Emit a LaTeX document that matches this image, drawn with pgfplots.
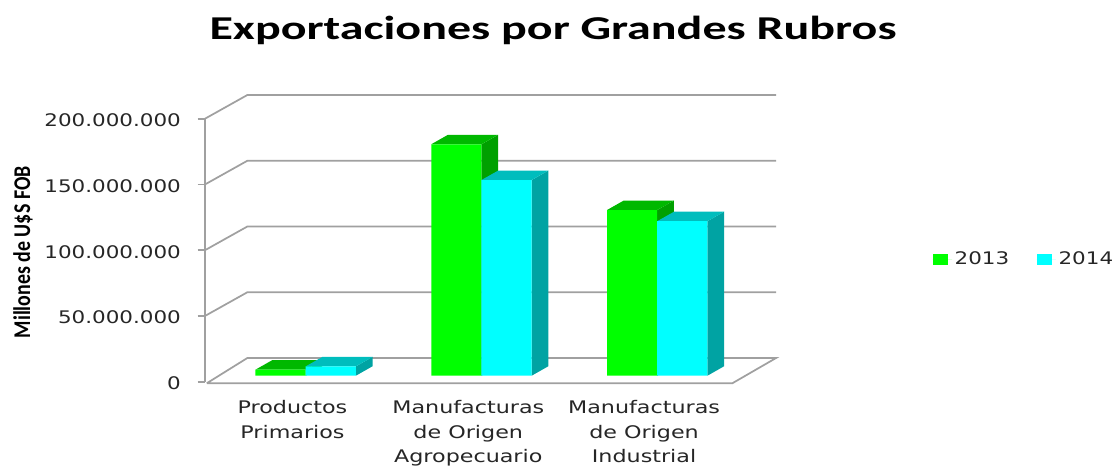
\documentclass[border=0pt]{standalone}
\usepackage{pgfplots}
\pgfplotsset{compat=1.18}
\usepackage{fontspec}
\setmainfont[FakeStretch=1.237]{DejaVu Sans}
\newfontfamily\xfont[FakeStretch=1.283]{DejaVu Sans}
\newfontfamily\titlefont[FakeStretch=1.44]{Carlito}
\newfontfamily\labelfont[FakeStretch=0.83]{Carlito}
\definecolor{gridg}{HTML}{A0A0A0}
\definecolor{gfront}{HTML}{00FF00}
\definecolor{gtop}{HTML}{00B800}
\definecolor{gside}{HTML}{00A000}
\definecolor{cfront}{HTML}{00FFFF}
\definecolor{ctop}{HTML}{00BDBD}
\definecolor{cside}{HTML}{00A3A3}
\definecolor{txt}{HTML}{262626}
\begin{document}
\begin{tikzpicture}
\path[use as bounding box] (0,0) rectangle (836.25pt,348.75pt);
% walls, ticks and labels
\begin{axis}[
  at={(153.75pt,62.475pt)}, anchor=south west,
  scale only axis, width=395.5pt, height=197.25pt,
  xmin=-0.5, xmax=2.5, ymin=0, ymax=200000000,
  clip=false,
  axis y line*=left, axis x line*=bottom,
  x axis line style={draw=none},
  y axis line style={draw=gridg, line width=1.5pt},
  xtick={0,1,2},
  xticklabels={{Productos\\Primarios},{Manufacturas\\de Origen\\Agropecuario},{Manufacturas\\de Origen\\Industrial}},
  xtick style={draw=none},
  xticklabel style={align=center, font=\xfont\fontsize{13}{18.4}\selectfont, text=txt, yshift=-5pt, xshift=-0.3pt},
  ytick={0,50000000,100000000,150000000,200000000},
  ytick style={draw=gridg, line width=1.2pt},
  tick align=outside, major tick length=5.6pt,
  scaled y ticks=false,
  yticklabel style={/pgf/number format/fixed, /pgf/number format/1000 sep={.}, /pgf/number format/assume math mode=true, font=\fontsize{13}{15}\selectfont, text=txt, xshift=-9pt, yshift=-1.2pt},
  ylabel={Millones de U\$S FOB},
  every axis y label/.style={at={(rel axis cs:-0.345,0.492)}, rotate=90, anchor=center, font=\labelfont\bfseries\fontsize{18}{19}\selectfont, text=black},
  title={Exportaciones por Grandes Rubros},
  every axis title/.style={at={(rel axis cs:0.66,1.335)}, anchor=center, font=\titlefont\bfseries\fontsize{25}{28}\selectfont, text=black},
]
\addplot[gridg, line width=1.3pt] coordinates {(-0.5,50000000) (-0.2593,68000000) (2.7486,68000000)};
\addplot[gridg, line width=1.3pt] coordinates {(-0.5,100000000) (-0.2593,118000000) (2.7486,118000000)};
\addplot[gridg, line width=1.3pt] coordinates {(-0.5,150000000) (-0.2593,168000000) (2.7486,168000000)};
\addplot[gridg, line width=1.3pt] coordinates {(-0.5,200000000) (-0.2593,218000000) (2.7486,218000000)};
\addplot[gridg, line width=1.3pt] coordinates {(-0.49,-1200000) (2.5,-1200000) (2.7486,18000000) (-0.2593,18000000) (-0.49,-1200000)};
\end{axis}
% bars
\begin{axis}[
  at={(163.35pt,66.975pt)}, anchor=south west,
  scale only axis, width=395.5pt, height=197.25pt,
  xmin=-0.5, xmax=2.5, ymin=0, ymax=200000000,
  clip=false, hide axis,
  legend columns=2,
  legend style={at={(rel axis cs:1.3552,0.4422)}, anchor=west, draw=none, fill=none, font=\fontsize{13}{15}\selectfont, text=txt, inner sep=0pt, /tikz/every even column/.append style={column sep=18.5pt}},
  legend image code/.code={\fill[#1] (0pt,-4.1pt) rectangle (11.25pt,4.1pt); \path (0pt,0pt) -- (14.5pt,0pt);},
]
% 2013 depth faces
\addplot[fill=gside, draw=none, forget plot] coordinates {(0,0) (0,4600000) (0.095,11800000) (0.095,7200000)} -- cycle;
\addplot[fill=gtop, draw=none, forget plot] coordinates {(-0.2856,4600000) (0,4600000) (0.095,11800000) (-0.1906,11800000)} -- cycle;
\addplot[fill=gside, draw=none, forget plot] coordinates {(1,0) (1,176000000) (1.095,183200000) (1.095,7200000)} -- cycle;
\addplot[fill=gtop, draw=none, forget plot] coordinates {(0.7144,176000000) (1,176000000) (1.095,183200000) (0.8094,183200000)} -- cycle;
\addplot[fill=gside, draw=none, forget plot] coordinates {(2,0) (2,126000000) (2.095,133200000) (2.095,7200000)} -- cycle;
\addplot[fill=gtop, draw=none, forget plot] coordinates {(1.7144,126000000) (2,126000000) (2.095,133200000) (1.8094,133200000)} -- cycle;
% 2013 fronts
\addplot[ybar, bar width=37.65pt, bar shift=-18.825pt, fill=gfront, draw=none] coordinates {(0,4600000) (1,176000000) (2,126000000)};
\addlegendentry{2013}
% 2014 depth faces
\addplot[fill=cside, draw=none, forget plot] coordinates {(0.2856,0) (0.2856,7100000) (0.3806,14300000) (0.3806,7200000)} -- cycle;
\addplot[fill=ctop, draw=none, forget plot] coordinates {(0,7100000) (0.2856,7100000) (0.3806,14300000) (0.095,14300000)} -- cycle;
\addplot[fill=cside, draw=none, forget plot] coordinates {(1.2856,0) (1.2856,148800000) (1.3806,156000000) (1.3806,7200000)} -- cycle;
\addplot[fill=ctop, draw=none, forget plot] coordinates {(1,148800000) (1.2856,148800000) (1.3806,156000000) (1.095,156000000)} -- cycle;
\addplot[fill=cside, draw=none, forget plot] coordinates {(2.2856,0) (2.2856,117500000) (2.3806,124700000) (2.3806,7200000)} -- cycle;
\addplot[fill=ctop, draw=none, forget plot] coordinates {(2,117500000) (2.2856,117500000) (2.3806,124700000) (2.095,124700000)} -- cycle;
% 2014 fronts
\addplot[ybar, bar width=37.65pt, bar shift=18.825pt, fill=cfront, draw=none] coordinates {(0,7100000) (1,148800000) (2,117500000)};
\addlegendentry{2014}
\end{axis}
\end{tikzpicture}
\end{document}
